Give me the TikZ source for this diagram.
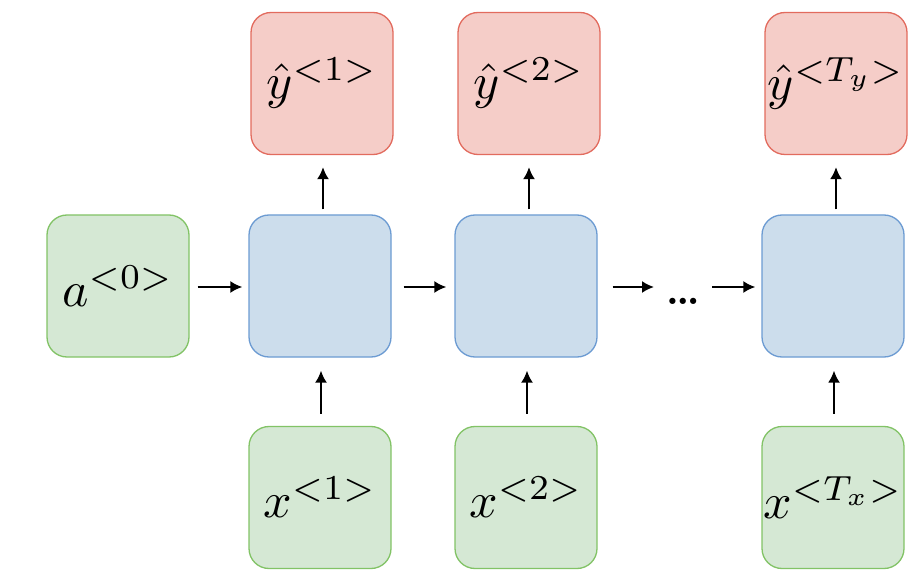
\documentclass[tikz,border=0pt]{standalone}
\usepackage{graphicx}
\usetikzlibrary{arrows.meta}
\definecolor{gfill}{HTML}{D5E8D4}
\definecolor{gdraw}{HTML}{82C366}
\definecolor{bfill}{HTML}{CCDDEC}
\definecolor{bdraw}{HTML}{6C9BD2}
\definecolor{rfill}{HTML}{F5CDC8}
\definecolor{rdraw}{HTML}{E26B5E}
\newcommand{\biglabel}[1]{\scalebox{5}{$#1$}}
\tikzset{
  box/.style={rounded corners=20pt, minimum width=142pt, minimum height=142pt, inner sep=0pt, line width=1.3pt},
  gbox/.style={box, fill=gfill, draw=gdraw},
  bbox/.style={box, fill=bfill, draw=bdraw},
  rbox/.style={box, fill=rfill, draw=rdraw},
  arr/.style={-{Latex[length=12pt,width=12pt]}, line width=2pt, black}
}
\begin{document}
\begin{tikzpicture}[x=1pt,y=-1pt]
\useasboundingbox (0,0) rectangle (924,580);
\node[gbox] (a0) at (118,286) {\biglabel{a^{<0>}}};
\node[bbox] (b1) at (320,286) {};
\node[bbox] (b2) at (526,286) {};
\node[bbox] (b3) at (833,286) {};
\node[rbox] (y1) at (322,83.5) {\biglabel{\hat{y}^{<1>}}};
\node[rbox] (y2) at (529,83.5) {\biglabel{\hat{y}^{<2>}}};
\node[rbox] (yT) at (836,83.5) {\biglabel{\hat{y}^{<T_y>}}};
\node[gbox] (x1) at (320,497.5) {\biglabel{x^{<1>}}};
\node[gbox] (x2) at (526,497.5) {\biglabel{x^{<2>}}};
\node[gbox] (xT) at (833,497.5) {\biglabel{x^{<T_x>}}};
\node[inner sep=0pt] (dots) at (683,301) {\scalebox{4}{\bfseries\ldots}};
\coordinate (dl) at (654,287);
\coordinate (dr) at (712,287);
\draw[arr, shorten <=8pt, shorten >=6pt] (a0.east |- 0,287) -- (b1.west |- 0,287);
\draw[arr, shorten <=12pt, shorten >=8pt] (b1.east |- 0,287) -- (b2.west |- 0,287);
\draw[arr, shorten <=15pt] (b2.east |- dl) -- (dl);
\draw[arr, shorten >=6pt] (dr) -- (b3.west |- dr);
\draw[arr, shorten <=5pt, shorten >=12pt] (b1.north -| 323,0) -- (y1.south -| 323,0);
\draw[arr, shorten <=5pt, shorten >=12pt] (b2.north -| 529,0) -- (y2.south -| 529,0);
\draw[arr, shorten <=5pt, shorten >=12pt] (b3.north -| 836,0) -- (yT.south -| 836,0);
\draw[arr, shorten <=12pt, shorten >=13pt] (x1.north -| 321,0) -- (b1.south -| 321,0);
\draw[arr, shorten <=12pt, shorten >=13pt] (x2.north -| 527,0) -- (b2.south -| 527,0);
\draw[arr, shorten <=12pt, shorten >=13pt] (xT.north -| 834,0) -- (b3.south -| 834,0);
\end{tikzpicture}
\end{document}
